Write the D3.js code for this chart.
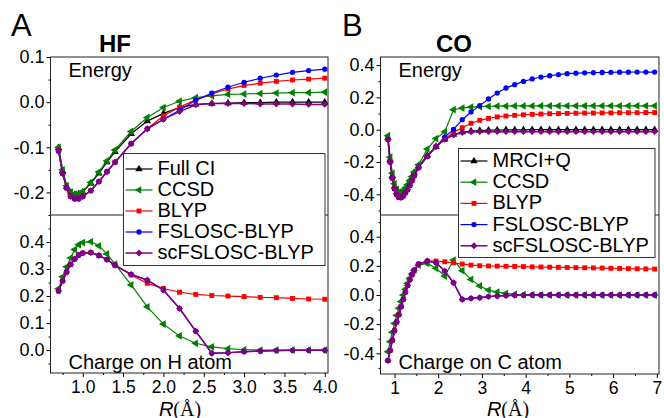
<!DOCTYPE html>
<html><head><meta charset="utf-8">
<script src="https://cdn.jsdelivr.net/npm/d3@7"></script>
<style>body{margin:0;background:#fff}svg{display:block}text{font-family:"Liberation Sans",Arial,sans-serif}</style>
</head><body><svg id="c" width="664" height="418"></svg>
<script>
// ---------- HF data ----------
const HF_R = [0.7,0.75,0.8,0.85,0.9,0.95,1.0,1.1,1.2,1.3,1.4,1.6,1.8,2.0,2.2,2.4,2.6,2.8,3.0,3.2,3.4,3.6,3.8,4.0];
const HF_E_FCI    = [-0.101,-0.152,-0.187,-0.200,-0.205,-0.203,-0.199,-0.180,-0.158,-0.133,-0.110,-0.070,-0.042,-0.025,-0.012,-0.005,-0.003,-0.002,-0.001,-0.001,0.000,0.000,0.000,0.000];
const HF_E_CCSD   = [-0.100,-0.150,-0.185,-0.199,-0.204,-0.203,-0.198,-0.178,-0.155,-0.130,-0.106,-0.065,-0.034,-0.012,0.002,0.010,0.014,0.017,0.018,0.019,0.020,0.021,0.021,0.022];
const HF_E_BLYP   = [-0.108,-0.158,-0.190,-0.209,-0.214,-0.214,-0.209,-0.196,-0.176,-0.154,-0.133,-0.092,-0.059,-0.030,-0.011,0.005,0.018,0.029,0.037,0.042,0.046,0.049,0.051,0.053];
const HF_E_FSLOSC = [-0.108,-0.158,-0.190,-0.209,-0.214,-0.214,-0.209,-0.196,-0.176,-0.154,-0.133,-0.092,-0.059,-0.038,-0.018,0.004,0.020,0.033,0.044,0.053,0.060,0.066,0.070,0.073];
const HF_E_SC     = [-0.108,-0.158,-0.190,-0.209,-0.214,-0.214,-0.209,-0.196,-0.176,-0.154,-0.133,-0.092,-0.059,-0.038,-0.021,-0.006,-0.003,-0.003,-0.003,-0.004,-0.004,-0.004,-0.005,-0.005];
const HF_Q_CCSD   = [0.227,0.271,0.308,0.341,0.372,0.390,0.398,0.401,0.386,0.356,0.318,0.241,0.160,0.096,0.052,0.025,0.012,0.005,0.001,0.000,0.000,0.000,0.000,0.000];
const HF_Q_BLYP   = [0.219,0.256,0.289,0.317,0.337,0.352,0.359,0.361,0.350,0.335,0.314,0.278,0.247,0.228,0.214,0.206,0.202,0.200,0.198,0.195,0.194,0.191,0.189,0.188];
const HF_Q_FSLOSC = [0.219,0.256,0.289,0.317,0.337,0.352,0.359,0.361,0.350,0.335,0.314,0.280,0.259,0.222,0.154,0.070,-0.012,-0.010,-0.006,-0.004,-0.002,-0.001,-0.001,-0.001];
const HF_Q_SC     = [0.219,0.256,0.289,0.317,0.337,0.352,0.359,0.361,0.350,0.335,0.314,0.280,0.259,0.222,0.154,0.070,-0.012,-0.010,-0.006,-0.004,-0.002,-0.001,-0.001,-0.001];

// ---------- CO data ----------
const CO_R = [0.85,0.9,0.95,1.0,1.05,1.1,1.15,1.2,1.25,1.3,1.35,1.4,1.45,
  1.55,1.75,1.95,2.15,2.35,2.55,2.75,2.95,3.15,3.35,3.55,3.75,3.95,4.15,4.35,4.55,4.75,4.95,5.15,5.35,5.55,5.75,5.95,6.15,6.35,6.55,6.75,6.95];
const CO_E_MRCI   = [-0.05,-0.185,-0.285,-0.35,-0.385,-0.398,-0.397,-0.385,-0.365,-0.345,-0.32,-0.295,-0.265,
  -0.225,-0.160,-0.105,-0.060,-0.030,-0.015,-0.008,-0.005,-0.003,-0.002,-0.001,-0.001,-0.001,0,0,0,0,0,0,0,0,0,0,0,0,0,0,0];
const CO_E_CCSD   = [-0.037,-0.17,-0.27,-0.335,-0.37,-0.386,-0.388,-0.377,-0.36,-0.34,-0.315,-0.29,-0.262,
  -0.217,-0.120,-0.055,-0.012,0.124,0.134,0.140,0.143,0.145,0.146,0.146,0.147,0.147,0.147,0.148,0.148,0.148,0.148,0.148,0.148,0.148,0.148,0.148,0.148,0.148,0.148,0.148,0.148];
const CO_E_BLYP   = [-0.06,-0.20,-0.30,-0.365,-0.40,-0.418,-0.42,-0.41,-0.39,-0.37,-0.345,-0.315,-0.285,
  -0.235,-0.165,-0.105,-0.060,-0.015,0.012,0.040,0.058,0.070,0.079,0.085,0.089,0.092,0.095,0.097,0.099,0.100,0.101,0.102,0.103,0.103,0.104,0.104,0.105,0.105,0.105,0.106,0.106];
const CO_E_FSLOSC = [-0.06,-0.20,-0.30,-0.365,-0.40,-0.418,-0.42,-0.41,-0.39,-0.37,-0.345,-0.315,-0.285,
  -0.235,-0.165,-0.105,-0.045,0.002,0.062,0.110,0.149,0.190,0.227,0.258,0.279,0.299,0.314,0.326,0.334,0.341,0.347,0.350,0.352,0.353,0.354,0.355,0.356,0.356,0.357,0.357,0.357];
const CO_E_SC     = [-0.06,-0.20,-0.30,-0.365,-0.40,-0.418,-0.42,-0.41,-0.39,-0.37,-0.345,-0.315,-0.285,
  -0.235,-0.165,-0.105,-0.060,-0.033,-0.018,-0.013,-0.012,-0.012,-0.012,-0.012,-0.012,-0.012,-0.012,-0.012,-0.012,-0.012,-0.012,-0.012,-0.012,-0.012,-0.012,-0.012,-0.012,-0.012,-0.012,-0.012,-0.012];
const CO_Q_CCSD   = [-0.39,-0.32,-0.255,-0.195,-0.14,-0.09,-0.045,0.0,0.04,0.08,0.115,0.145,0.17,
  0.205,0.217,0.183,0.130,0.240,0.167,0.107,0.062,0.034,0.020,0.011,0.005,0.002,0.001,0,0,0,0,0,0,0,0,0,0,0,0,0,0];
const CO_Q_BLYP   = [-0.45,-0.38,-0.31,-0.245,-0.185,-0.135,-0.08,-0.03,0.02,0.065,0.105,0.14,0.17,
  0.212,0.233,0.233,0.228,0.221,0.212,0.205,0.201,0.199,0.198,0.197,0.196,0.195,0.193,0.192,0.191,0.190,0.189,0.188,0.187,0.186,0.185,0.183,0.182,0.181,0.180,0.179,0.178];
const CO_Q_FSLOSC = [-0.45,-0.38,-0.31,-0.245,-0.185,-0.135,-0.08,-0.03,0.02,0.065,0.105,0.14,0.17,
  0.212,0.233,0.221,0.164,0.084,-0.030,-0.023,-0.018,-0.011,-0.007,-0.004,-0.002,-0.001,0,0,0,0,0,0,0,0,0,0,0,0,0,0,0];
const CO_Q_SC     = [-0.45,-0.38,-0.31,-0.245,-0.185,-0.135,-0.08,-0.03,0.02,0.065,0.105,0.14,0.17,
  0.212,0.233,0.221,0.164,0.084,-0.030,-0.023,-0.018,-0.011,-0.007,-0.004,-0.002,-0.001,0,0,0,0,0,0,0,0,0,0,0,0,0,0,0];

// ---------- ticks ----------
const HF_X_TICKS = [1.0,1.5,2.0,2.5,3.0,3.5,4.0];
const HF_X_MINOR = [0.75,1.25,1.75,2.25,2.75,3.25,3.75];
const HF_E_TICKS = [-0.2,-0.1,0.0,0.1];
const HF_E_MINOR = [-0.25,-0.15,-0.05,0.05];
const HF_Q_TICKS = [0.0,0.1,0.2,0.3,0.4];
const HF_Q_MINOR = [-0.05,0.05,0.15,0.25,0.35,0.45];
const CO_X_TICKS = [1,2,3,4,5,6,7];
const CO_X_MINOR = [1.5,2.5,3.5,4.5,5.5,6.5];
const CO_E_TICKS = [-0.4,-0.2,0.0,0.2,0.4];
const CO_E_MINOR = [-0.5,-0.3,-0.1,0.1,0.3];
const CO_Q_TICKS = [-0.4,-0.2,0.0,0.2,0.4];
const CO_Q_MINOR = [-0.5,-0.3,-0.1,0.1,0.3,0.5];

const HF_LEGEND = ["Full CI","CCSD","BLYP","FSLOSC-BLYP","scFSLOSC-BLYP"];
const CO_LEGEND = ["MRCI+Q","CCSD","BLYP","FSLOSC-BLYP","scFSLOSC-BLYP"];

const STY = [
  {color:"#000000", sym:"up",   size:24, w:1.2},
  {color:"#008000", sym:"left", size:26, w:1.2},
  {color:"#ff0000", sym:"sq",   size:24, w:1.2},
  {color:"#0000ff", sym:"circ", size:22, w:1.2},
  {color:"#800080", sym:"dia",  size:30, w:1.5}
];

const svg = d3.select("#c");
const FONT = '"Liberation Sans", Arial, sans-serif';

function sym(s) {
  const t = {up:d3.symbolTriangle, left:d3.symbolTriangle, sq:d3.symbolSquare, circ:d3.symbolCircle, dia:d3.symbolDiamond2}[s.sym];
  return d3.symbol().type(t).size(s.size)();
}
function drawSeries(g, xs, ys, x, y, s) {
  const pts = xs.map((v,i)=>[v, ys[i]]);
  g.append("path").attr("d", d3.line().x(d=>x(d[0])).y(d=>y(d[1]))(pts))
    .attr("fill","none").attr("stroke",s.color).attr("stroke-width",s.w);
  const rot = s.sym==="left" ? " rotate(-90)" : "";
  g.selectAll(null).data(pts).enter().append("path")
    .attr("d", sym(s)).attr("fill", s.color)
    .attr("transform", d=>`translate(${x(d[0])},${y(d[1])})${rot}`);
}
function fmt1(v){ return (Math.abs(v)<1e-9?0:v).toFixed(1); }

function panel(c) {
  const g = svg.append("g");
  const x = d3.scaleLinear().domain(c.xDom).range([c.x0, c.x1]);
  const yT = d3.scaleLinear().domain(c.eDom).range([c.yMid, c.yTop]);
  const yB = d3.scaleLinear().domain(c.qDom).range([c.yBot, c.yMid]);

  c.E.forEach((ys,i)=>{ if(ys) drawSeries(g, c.R, ys, x, yT, STY[i]); });
  c.Q.forEach((ys,i)=>{ if(ys) drawSeries(g, c.R, ys, x, yB, STY[i]); });

  function yAxis(scale, ticks, minor) {
    const a = g.append("g").attr("transform",`translate(${c.x0},0)`)
      .call(d3.axisLeft(scale).tickValues(ticks).tickSize(4).tickPadding(2).tickFormat(fmt1));
    a.select(".domain").remove();
    a.selectAll("text").attr("font-family",FONT).attr("font-size",18).attr("fill","#000");
    const m = g.append("g").attr("transform",`translate(${c.x0},0)`)
      .call(d3.axisLeft(scale).tickValues(minor).tickSize(2).tickFormat(""));
    m.select(".domain").remove();
  }
  yAxis(yT, c.eTicks, c.eMinor);
  yAxis(yB, c.qTicks, c.qMinor);
  const xa = g.append("g").attr("transform",`translate(0,${c.yBot})`)
    .call(d3.axisBottom(x).tickValues(c.xTicks).tickSize(4).tickPadding(4).tickFormat(c.xFmt));
  xa.select(".domain").remove();
  xa.selectAll("text").attr("font-family",FONT).attr("font-size",17.5).attr("fill","#000");
  const xm = g.append("g").attr("transform",`translate(0,${c.yBot})`)
    .call(d3.axisBottom(x).tickValues(c.xMinor).tickSize(2).tickFormat(""));
  xm.select(".domain").remove();

  g.append("rect").attr("x",c.x0).attr("y",c.yTop).attr("width",c.x1-c.x0).attr("height",c.yBot-c.yTop)
    .attr("fill","none").attr("stroke","#222").attr("stroke-width",1);
  g.append("line").attr("x1",c.x0).attr("x2",c.x1).attr("y1",c.yMid).attr("y2",c.yMid)
    .attr("stroke","#222").attr("stroke-width",1);

  g.append("text").attr("x",c.letterX).attr("y",36).attr("font-size",31).text(c.letter);
  g.append("text").attr("x",c.titleX).attr("y",52).attr("font-size",24).attr("font-weight","bold")
    .attr("text-anchor","middle").text(c.title);
  g.append("text").attr("x",c.x0+18).attr("y",77).attr("font-size",20).text("Energy");
  g.append("text").attr("x",c.x0+18).attr("y",369).attr("font-size",20).text(c.qLabel);
  const xl = g.append("text").attr("x",c.xLabX).attr("y",415.5).attr("font-size",20).attr("text-anchor","middle");
  xl.append("tspan").attr("font-style","italic").text("R");
  xl.append("tspan").attr("font-family",'"Liberation Serif","DejaVu Serif",serif').text("(Å)");

  const L = c.leg;
  g.append("rect").attr("x",L.x).attr("y",L.y).attr("width",L.w).attr("height",L.h)
    .attr("fill","#fff").attr("stroke","#333").attr("stroke-width",1);
  c.legNames.forEach((name,i)=>{
    const yy = L.base + i*L.dy;
    const ly = yy - 6;
    const s = STY[i];
    g.append("line").attr("x1",L.x+2).attr("x2",L.x+29).attr("y1",ly).attr("y2",ly)
      .attr("stroke",s.color).attr("stroke-width",s.w);
    const rot = s.sym==="left" ? " rotate(-90)" : "";
    g.append("path").attr("d",sym(s)).attr("fill",s.color)
      .attr("transform",`translate(${L.x+15.5},${ly})${rot}`);
    g.append("text").attr("x",L.x+34).attr("y",yy).attr("font-size",20).text(name);
  });
}

panel({
  R:HF_R, E:[HF_E_FCI,HF_E_CCSD,HF_E_BLYP,HF_E_FSLOSC,HF_E_SC], Q:[null,HF_Q_CCSD,HF_Q_BLYP,HF_Q_FSLOSC,HF_Q_SC],
  x0:50.5, x1:328, yTop:57, yMid:215, yBot:373,
  xDom:[0.6,4.04], eDom:[-0.25,0.1], qDom:[-0.085,0.5],
  xTicks:HF_X_TICKS, xMinor:HF_X_MINOR, xFmt:d=>d.toFixed(1),
  eTicks:HF_E_TICKS, eMinor:HF_E_MINOR, qTicks:HF_Q_TICKS, qMinor:HF_Q_MINOR,
  letter:"A", letterX:11, title:"HF", titleX:115, qLabel:"Charge on H atom", xLabX:180,
  leg:{x:123.5, y:153.5, w:201.5, h:112, base:175, dy:21}, legNames:HF_LEGEND
});
panel({
  R:CO_R, E:[CO_E_MRCI,CO_E_CCSD,CO_E_BLYP,CO_E_FSLOSC,CO_E_SC], Q:[null,CO_Q_CCSD,CO_Q_BLYP,CO_Q_FSLOSC,CO_Q_SC],
  x0:380.5, x1:659, yTop:57, yMid:215, yBot:374,
  xDom:[0.68,7.05], eDom:[-0.528,0.45], qDom:[-0.542,0.549],
  xTicks:CO_X_TICKS, xMinor:CO_X_MINOR, xFmt:d=>String(d),
  eTicks:CO_E_TICKS, eMinor:CO_E_MINOR, qTicks:CO_Q_TICKS, qMinor:CO_Q_MINOR,
  letter:"B", letterX:342, title:"CO", titleX:454, qLabel:"Charge on C atom", xLabX:508,
  leg:{x:458.5, y:148.5, w:196.5, h:109, base:167, dy:21.2}, legNames:CO_LEGEND
});
</script>
</body></html>
